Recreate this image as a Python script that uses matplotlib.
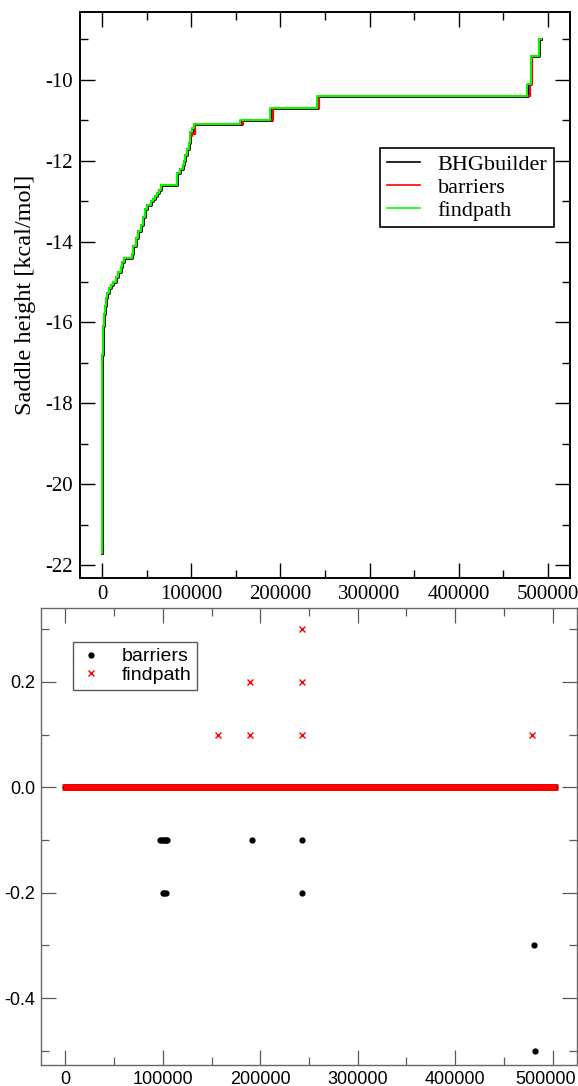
import matplotlib
matplotlib.use("Agg")
import matplotlib.pyplot as plt
from matplotlib.ticker import MultipleLocator
from matplotlib.transforms import ScaledTranslation
import numpy as np

plt.rcParams["axes.unicode_minus"] = False

# ---- top panel: saddle height vs. structure index (step curves) ----
bhg_x = [0, 200, 500, 1000, 1700, 3000, 4500, 5800, 7500, 9500, 12000, 15000,
         17500, 20700, 22500, 24300, 33000, 35000, 37400, 40000, 43000, 45500,
         47800, 50500, 54200, 57000, 59700, 61500, 63400, 66100, 84000, 87000,
         90200, 91500, 93200, 95000, 96900, 98000, 99000, 100500, 102500,
         156600, 190000, 242000, 478000, 481000, 489700, 492000]
bhg_y = [-21.7, -16.8, -16.4, -16.1, -15.8, -15.6, -15.4, -15.27, -15.15, -15.07,
         -15.0, -14.88, -14.75, -14.62, -14.5, -14.4, -14.3, -14.1, -13.9, -13.75,
         -13.6, -13.4, -13.2, -13.1, -13.0, -12.95, -12.88, -12.8, -12.72, -12.6,
         -12.3, -12.2, -12.1, -12.0, -11.85, -11.7, -11.55, -11.4, -11.3, -11.2,
         -11.1, -11.0, -10.7, -10.4, -10.1, -9.4, -9.0, -9.0]

bar_x = [0, 200, 500, 1000, 1700, 3000, 4500, 5800, 7500, 9500, 12000, 15000,
         17500, 20700, 22500, 24300, 33000, 35000, 37400, 40000, 43000, 45500,
         47800, 50500, 54200, 57000, 59700, 61500, 63400, 66100, 84000, 87000,
         90200, 91500, 93200, 95000, 96900, 98000, 99000, 100500, 104000,
         158000, 192000, 243500, 480000, 482000, 489700, 492000]
bar_y = [-21.7, -16.8, -16.4, -16.1, -15.8, -15.6, -15.4, -15.27, -15.15, -15.07,
         -15.0, -14.88, -14.75, -14.62, -14.5, -14.4, -14.3, -14.1, -13.9, -13.75,
         -13.6, -13.4, -13.2, -13.1, -13.0, -12.95, -12.88, -12.8, -12.72, -12.6,
         -12.3, -12.2, -12.1, -12.0, -11.85, -11.7, -11.55, -11.4, -11.4, -11.35,
         -11.1, -11.0, -10.7, -10.4, -10.1, -9.4, -9.0, -9.0]

fp_x = [0, 200, 500, 1000, 1700, 3000, 4500, 5800, 7500, 9500, 12000, 15000,
        17500, 20700, 22500, 24300, 33000, 35000, 37400, 40000, 43000, 45500,
        47800, 50500, 54200, 57000, 59700, 61500, 63400, 66100, 84000, 87000,
        90200, 91500, 93200, 95000, 96900, 98000, 99000, 100500, 102500,
        155000, 188500, 240500, 477000, 481000, 489700, 492000]
fp_y = bhg_y

# ---- bottom panel: differences to BHGbuilder ----
zero_start, zero_end, zero_step = 0, 502000, 400   # all other structures: diff 0
bar_dx = [97500, 99000, 100500, 102000, 103500, 104500, 100000, 101500, 103000,
          192000, 242500, 242500, 481000, 481500]
bar_dy = [-0.1, -0.1, -0.1, -0.1, -0.1, -0.1, -0.2, -0.2, -0.2,
          -0.1, -0.1, -0.2, -0.3, -0.5]
fp_dx = [156700, 190000, 190000, 242500, 242500, 242500, 479000]
fp_dy = [0.1, 0.1, 0.2, 0.1, 0.2, 0.3, 0.1]

fig = plt.figure(figsize=(5.78, 10.86), dpi=100)

serif = "Liberation Serif"
sans = "Liberation Sans"

# top panel
ax1 = fig.add_axes([0.1384, 0.4678, 0.8478, 0.5212])
ax1.plot(bhg_x, bhg_y, color="black", lw=2.0, drawstyle="steps-post", label="BHGbuilder")
ax1.plot(bar_x, bar_y, color="red", lw=1.6, drawstyle="steps-post", label="barriers")
ax1.plot(fp_x, fp_y, color="lime", lw=1.4, drawstyle="steps-post", label="findpath")
ax1.set_xlim(-25000, 525000)
ax1.set_ylim(-22.32, -8.32)
ax1.xaxis.set_major_locator(MultipleLocator(100000))
ax1.xaxis.set_minor_locator(MultipleLocator(50000))
ax1.yaxis.set_major_locator(MultipleLocator(2))
ax1.yaxis.set_minor_locator(MultipleLocator(1))
ax1.tick_params(which="both", direction="in", top=True, right=True, width=1.0)
ax1.tick_params(which="major", length=11, pad=5)
ax1.tick_params(which="minor", length=5.5)
for s in ax1.spines.values():
    s.set_linewidth(1.4)
for lab in ax1.get_xticklabels() + ax1.get_yticklabels():
    lab.set_fontfamily(serif)
    lab.set_fontsize(15)
ax1.set_ylabel("Saddle height [kcal/mol]", fontfamily=serif, fontsize=17.5, labelpad=7)
leg1 = ax1.legend(loc="upper left", bbox_to_anchor=(0.612, 0.760), borderaxespad=0,
                  prop={"family": serif, "size": 16}, fancybox=False, framealpha=1,
                  edgecolor="black", handlelength=1.5, labelspacing=0.1,
                  borderpad=0.3, handletextpad=0.8)
leg1.get_frame().set_linewidth(1.2)
for h in leg1.get_lines():
    h.set_linewidth(1.2)

# bottom panel
zero_x = np.arange(zero_start, zero_end + 1, zero_step)
zero_y = np.zeros_like(zero_x, dtype=float)

ax2 = fig.add_axes([0.0709, 0.0193, 0.9273, 0.4208])
ax2.plot(np.r_[zero_x, bar_dx], np.r_[zero_y, bar_dy], "o", color="black", ms=4.5,
         mew=0, ls="none", label="barriers")
ax2.plot(np.r_[zero_x, fp_dx], np.r_[zero_y, fp_dy], "x", color="red", ms=4,
         mew=1.0, ls="none", label="findpath")
ax2.set_xlim(-25000, 525000)
ax2.set_ylim(-0.527, 0.34)
ax2.xaxis.set_major_locator(MultipleLocator(100000))
ax2.xaxis.set_minor_locator(MultipleLocator(50000))
ax2.yaxis.set_major_locator(MultipleLocator(0.2))
ax2.yaxis.set_minor_locator(MultipleLocator(0.1))
ax2.tick_params(which="both", direction="in", top=True, right=True, width=0.9,
                color="0.35")
ax2.tick_params(which="major", length=11, pad=4)
ax2.tick_params(which="minor", length=5.5)
for s in ax2.spines.values():
    s.set_linewidth(1.0)
    s.set_color("0.4")
for lab in ax2.get_xticklabels() + ax2.get_yticklabels():
    lab.set_fontfamily(sans)
    lab.set_fontsize(13)
leg2 = ax2.legend(loc="upper left", bbox_to_anchor=(0.060, 0.926), borderaxespad=0,
                  prop={"family": sans, "size": 14}, fancybox=False, framealpha=1,
                  edgecolor="0.35", handlelength=1.2, labelspacing=0.05,
                  borderpad=0.3, handletextpad=1.0, markerscale=1.0)
leg2.get_frame().set_linewidth(1.0)

# keep the last x label inside the figure
fig.canvas.draw()
for t in ax2.get_xticklabels():
    if t.get_text() == "500000":
        t.set_transform(t.get_transform() + ScaledTranslation(-5 / 72, 0, fig.dpi_scale_trans))

fig.savefig("out.png", dpi=100)
